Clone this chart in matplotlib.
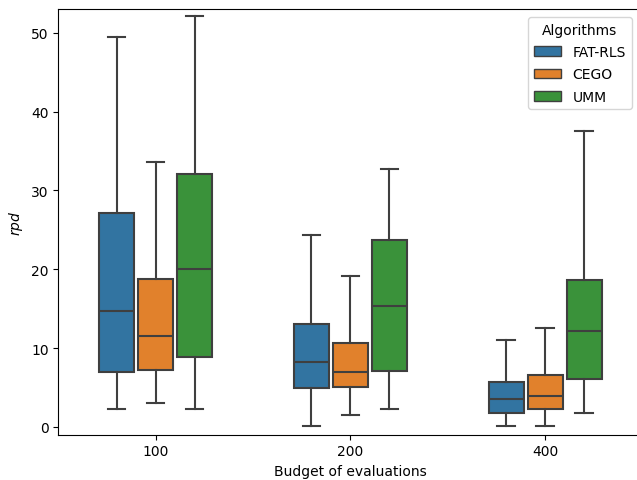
import numpy as np
import matplotlib
matplotlib.use('Agg')
import matplotlib.pyplot as plt
from matplotlib.patches import Patch

budgets = ['100', '200', '400']
algorithms = ['FAT-RLS', 'CEGO', 'UMM']
colors = ['#3274a1', '#e1812c', '#3a923a']

# box stats per algorithm, one value per budget
whislo = {'FAT-RLS': [2.3, 0.05, 0.05], 'CEGO': [3.0, 1.5, 0.05], 'UMM': [2.3, 2.3, 1.7]}
q1 = {'FAT-RLS': [6.9, 4.9, 1.8], 'CEGO': [7.2, 5.0, 2.3], 'UMM': [8.9, 7.1, 6.1]}
med = {'FAT-RLS': [14.7, 8.2, 3.55], 'CEGO': [11.5, 7.0, 3.85], 'UMM': [20.0, 15.3, 12.2]}
q3 = {'FAT-RLS': [27.1, 13.0, 5.75], 'CEGO': [18.7, 10.7, 6.6], 'UMM': [32.1, 23.7, 18.6]}
whishi = {'FAT-RLS': [49.5, 24.3, 11.0], 'CEGO': [33.6, 19.1, 12.6], 'UMM': [52.2, 32.7, 37.5]}

fig, ax = plt.subplots(figsize=(6.37, 4.81), dpi=100)
# the original was cropped on the right, right spine falls just outside
fig.subplots_adjust(left=0.0915, right=1.0087, bottom=0.0942, top=0.9786)
edge = '#3f3f3f'
offsets = [-0.2, 0.0, 0.2]
for k, alg in enumerate(algorithms):
    stats = []
    for i in range(len(budgets)):
        stats.append(dict(whislo=whislo[alg][i], q1=q1[alg][i], med=med[alg][i],
                          q3=q3[alg][i], whishi=whishi[alg][i], fliers=[]))
    pos = np.arange(len(budgets)) + offsets[k]
    ax.bxp(stats, positions=pos, widths=0.18, patch_artist=True, showfliers=False,
           manage_ticks=False,
           boxprops=dict(facecolor=colors[k], edgecolor=edge, linewidth=1.5),
           medianprops=dict(color=edge, linewidth=1.5),
           whiskerprops=dict(color=edge, linewidth=1.5),
           capprops=dict(color=edge, linewidth=1.5))

ax.set_xticks(range(len(budgets)))
ax.set_xticklabels(budgets)
ax.set_xlim(-0.5, 2.5)
ax.set_ylim(-1.0, 53.0)
ax.set_xlabel('Budget of evaluations')
ax.set_ylabel('$rpd$')
handles = [Patch(facecolor=c, edgecolor=edge, linewidth=1.0) for c in colors]
ax.legend(handles, algorithms, title='Algorithms', loc='upper right',
          bbox_to_anchor=(0.993, 0.998), labelspacing=0.6)
plt.savefig('out.png')
